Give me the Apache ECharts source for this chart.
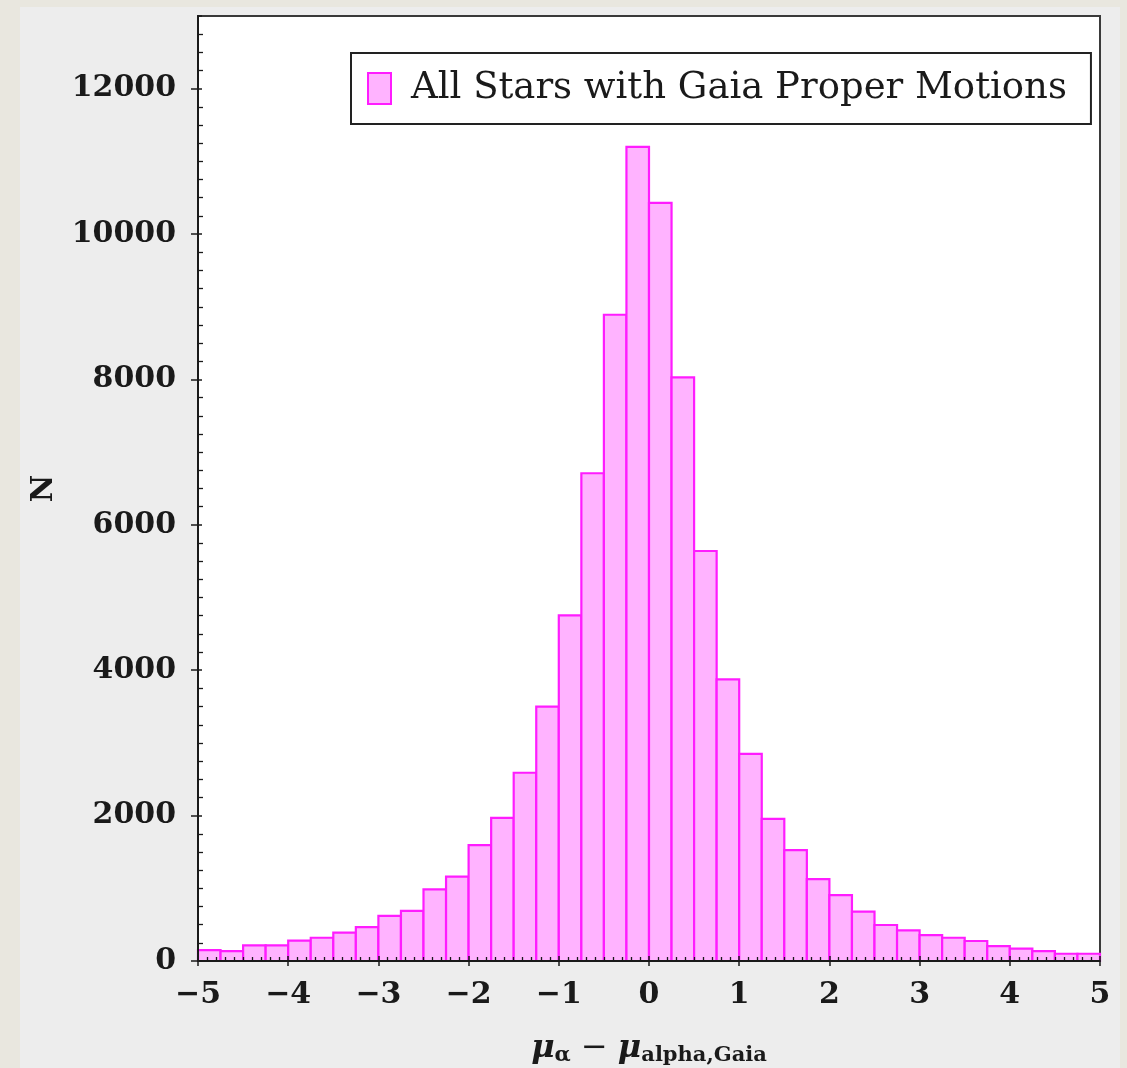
<!DOCTYPE html>
<html>
<head>
<meta charset="utf-8">
<script src="https://cdn.jsdelivr.net/npm/echarts@6/dist/echarts.min.js"></script>
<style>
  html, body { margin: 0; padding: 0; background: #e9e7df; }
  #chart { width: 1127px; height: 1068px; }
</style>
</head>
<body>
<div id="chart"></div>
<script>
// Histogram of proper-motion differences, 0.25-wide bins from -5 to 5
const binStart = -5;
const binWidth = 0.25;
const counts = [
  150, 135, 215, 215, 280, 320, 390, 465, 620, 690,
  985, 1160, 1595, 1970, 2590, 3500, 4755, 6710, 8890, 11200,
  10430, 8030, 5640, 3875, 2850, 1955, 1525, 1125, 905, 680,
  495, 420, 355, 320, 275, 205, 170, 135, 100, 100
];
const seriesName = 'All Stars with Gaia Proper Motions';

const binData = counts.map((c, i) => [binStart + i * binWidth, binStart + (i + 1) * binWidth, c]);

const FILL = '#ffb3ff';
const EDGE = '#ff1cff';
const INK = '#1a1a1a';
const SERIF = '"DejaVu Serif", "Liberation Serif", serif';

const chart = echarts.init(document.getElementById('chart'), null, { renderer: 'canvas' });

const labelFont = { fontFamily: SERIF, fontWeight: 'bold', fontSize: 30, color: INK };

function renderBin(params, api) {
  const x0 = api.value(0), x1 = api.value(1), n = api.value(2);
  const topLeft = api.coord([x0, n]);
  const bottomRight = api.coord([x1, 0]);
  return {
    type: 'rect',
    shape: { x: topLeft[0], y: topLeft[1], width: bottomRight[0] - topLeft[0], height: bottomRight[1] - topLeft[1] },
    style: { fill: FILL, stroke: EDGE, lineWidth: 2.2 }
  };
}

chart.setOption({
  animation: false,
  backgroundColor: '#e9e7df',
  graphic: [{
    type: 'rect', z: -10, silent: true,
    shape: { x: 20, y: 7, width: 1100, height: 1061 },
    style: { fill: '#ededed' }
  }],
  grid: {
    left: 198, right: 27, top: 16, bottom: 107,
    outerBoundsMode: 'none', containLabel: false,
    show: true, backgroundColor: '#ffffff', borderColor: '#3a3a3a', borderWidth: 2
  },
  legend: {
    left: 351, top: 53,
    data: [seriesName],
    backgroundColor: '#ffffff',
    borderColor: '#222', borderWidth: 2, borderRadius: 0,
    padding: [17, 24, 17, 16],
    itemWidth: 23, itemHeight: 31,
    icon: 'rect',
    itemStyle: { color: FILL, borderColor: EDGE, borderWidth: 2 },
    textStyle: { fontFamily: SERIF, fontSize: 37, color: INK, padding: [0, 0, 0, 15] }
  },
  xAxis: [{
    type: 'value', min: -5, max: 5, interval: 1, z: 5,
    axisLine: { show: true, onZero: false, lineStyle: { color: INK, width: 2 } },
    axisTick: { show: true, inside: false, length: 5, lineStyle: { color: INK, width: 1.5 } },
    minorTick: { show: false },
    splitLine: { show: false },
    axisLabel: Object.assign({ margin: 19, formatter: v => (v < 0 ? '\u2212' + Math.abs(v) : String(v)) }, labelFont),
    name: '{mu|\u03bc}{sa|\u03b1}{op| \u2212 }{mu|\u03bc}{sg|alpha,Gaia}',
    nameLocation: 'middle', nameGap: 70,
    nameTextStyle: {
      rich: {
        mu: { fontFamily: SERIF, fontStyle: 'italic', fontWeight: 'bold', fontSize: 32, color: INK },
        sa: { fontFamily: SERIF, fontWeight: 'bold', fontSize: 21, color: INK, padding: [14, 0, 0, 0] },
        op: { fontFamily: SERIF, fontSize: 32, color: INK },
        sg: { fontFamily: SERIF, fontWeight: 'bold', fontSize: 21, color: INK, padding: [14, 0, 0, 0] }
      }
    }
  }, {
    type: 'value', min: -5, max: 5, interval: 1, z: 5, position: 'bottom',
    axisLine: { show: false, onZero: false },
    axisTick: { show: true, inside: true, length: 5, lineStyle: { color: INK, width: 1.5 } },
    minorTick: { show: true, splitNumber: 10, length: 4, lineStyle: { color: INK, width: 1.3 } },
    splitLine: { show: false },
    axisLabel: { show: false }
  }],
  yAxis: [{
    type: 'value', min: 0, max: 13000, interval: 2000, z: 5,
    axisLine: { show: true, onZero: false, lineStyle: { color: INK, width: 2 } },
    axisTick: { show: true, inside: false, length: 7, lineStyle: { color: INK, width: 1.5 } },
    minorTick: { show: false },
    splitLine: { show: false },
    axisLabel: Object.assign({ margin: 22, showMaxLabel: false, formatter: v => String(v) }, labelFont),
    name: 'N', nameLocation: 'middle', nameGap: 139, nameRotate: 90,
    nameTextStyle: { fontFamily: SERIF, fontWeight: 'bold', fontSize: 30, color: INK }
  }, {
    type: 'value', min: 0, max: 13000, interval: 2000, z: 5, position: 'left',
    axisLine: { show: false, onZero: false },
    axisTick: { show: true, inside: true, length: 4, lineStyle: { color: INK, width: 1.5 } },
    minorTick: { show: true, splitNumber: 8, length: 5, lineStyle: { color: INK, width: 1.3 } },
    splitLine: { show: false },
    axisLabel: { show: false }
  }],
  series: [{
    name: seriesName,
    type: 'custom',
    renderItem: renderBin,
    itemStyle: { color: FILL, borderColor: EDGE },
    encode: { x: [0, 1], y: 2 },
    data: binData,
    z: 2
  }]
});
</script>
</body>
</html>
